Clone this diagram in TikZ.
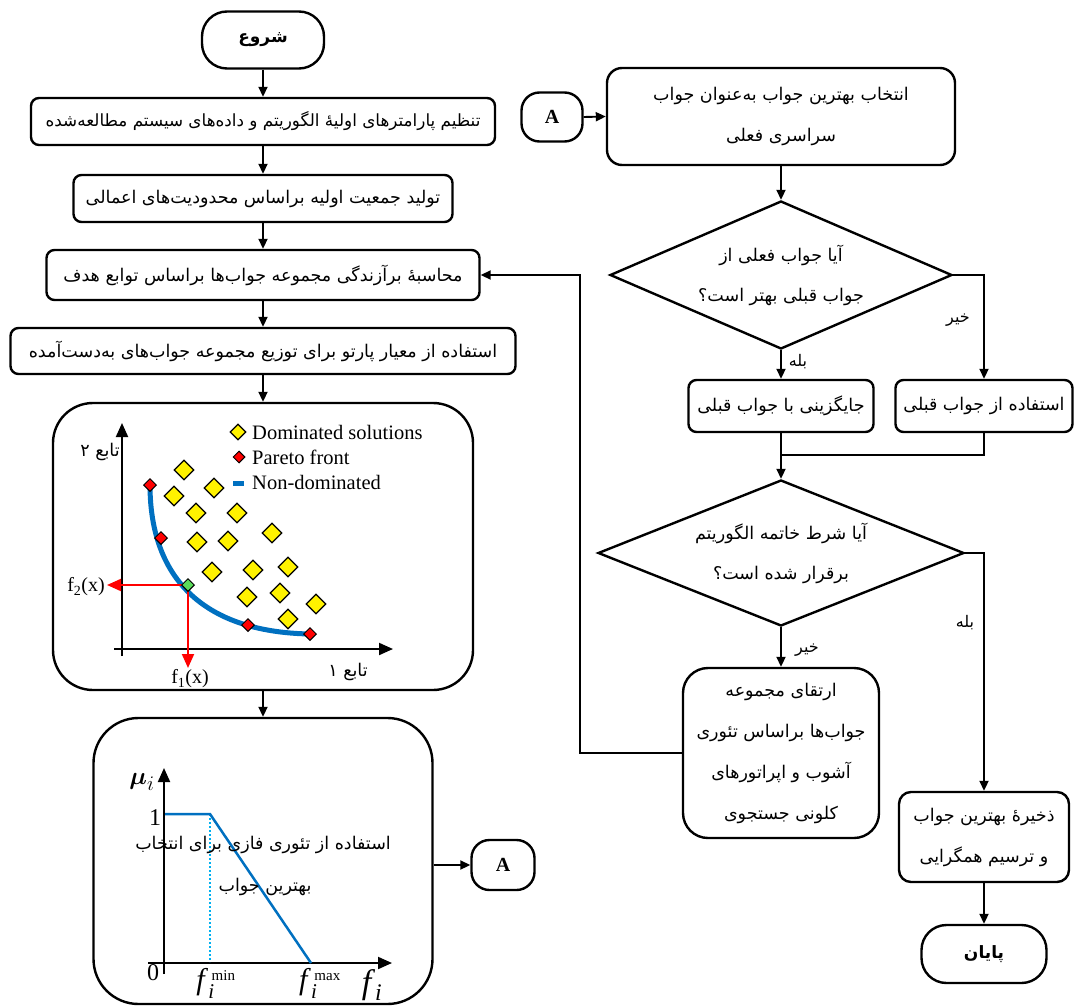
\documentclass[tikz,border=0pt]{standalone}
\usepackage{amsmath}
\usepackage{fontspec}
\setmainfont{Liberation Serif}
\newfontfamily\arabicfont[Script=Arabic]{DejaVu Sans}
\TeXXeTstate=1
\usetikzlibrary{arrows.meta,shapes.geometric}
\newcommand{\fa}[1]{{\arabicfont\beginR #1\endR}}
\definecolor{curveblue}{RGB}{0,112,192}
\definecolor{dotblue}{RGB}{0,176,240}
\definecolor{ptgreen}{RGB}{90,220,90}
\tikzset{
  box/.style={draw, line width=2.4pt, rounded corners=8pt, inner sep=0pt, align=center, font=\fontsize{17.5}{41}\selectfont},
  term/.style={draw, line width=2.4pt, rounded corners=22pt, inner sep=0pt, font=\fontsize{17}{20}\selectfont\bfseries},
  dec/.style={draw, diamond, shape aspect=2.3, line width=2.4pt, inner sep=0pt, align=center, font=\fontsize{17.5}{40}\selectfont},
  arr/.style={line width=1.9pt, -{Triangle[length=10pt,width=9pt]}},
  ln/.style={line width=1.9pt},
  lbl/.style={font=\fontsize{16}{18}\selectfont, inner sep=0pt},
  axis/.style={line width=2pt, -{Triangle[length=14pt,width=12pt]}},
  redarr/.style={red, line width=2pt, -{Triangle[length=14pt,width=12pt]}},
  ydia/.style={diamond, draw, fill=yellow, line width=1.2pt, minimum size=20pt, inner sep=0pt},
  rdia/.style={diamond, draw, fill=red, line width=1pt, minimum size=13pt, inner sep=0pt},
  gdia/.style={diamond, draw, fill=ptgreen, line width=1pt, minimum size=13pt, inner sep=0pt},
  legtxt/.style={anchor=west, inner sep=0pt, font=\fontsize{20.5}{22}\selectfont},
  chtxt/.style={inner sep=0pt, font=\fontsize{20}{22}\selectfont},
  fatxt/.style={inner sep=0pt, font=\fontsize{17.5}{20}\selectfont},
}
\begin{document}
\begin{tikzpicture}[x=1pt,y=-1pt]
\useasboundingbox (0,0) rectangle (1075,1008);

% ---------- left column ----------
\node[term, minimum width=122pt, minimum height=57pt, rounded corners=25pt] (start) at (263,40) {\fa{شروع}};
\node[box, minimum width=464pt, minimum height=47pt, font=\fontsize{16.8}{20}\selectfont] (b1) at (263,121.5) {\fa{تنظیم پارامترهای اولیهٔ الگوریتم و داده‌های سیستم مطالعه‌شده}};
\node[box, minimum width=379pt, minimum height=47pt] (b2) at (263,198.5) {\fa{تولید جمعیت اولیه براساس محدودیت‌های اعمالی}};
\node[box, minimum width=433pt, minimum height=50pt] (b3) at (263,275) {\fa{محاسبهٔ برآزندگی مجموعه جواب‌ها براساس توابع هدف}};
\node[box, minimum width=505pt, minimum height=46pt] (b4) at (263,351) {\fa{استفاده از معیار پارتو برای توزیع مجموعه جواب‌های به‌دست‌آمده}};
\node[draw, line width=2.4pt, rounded corners=40pt, minimum width=420pt, minimum height=287pt, inner sep=0pt] (par) at (263,546.5) {};
\node[draw, line width=2.4pt, rounded corners=45pt, minimum width=339pt, minimum height=286pt, inner sep=0pt] (fz) at (263,861) {};
\node[term, minimum width=63pt, minimum height=50pt, rounded corners=18pt, font=\fontsize{20}{22}\selectfont\bfseries] (aL) at (503,865) {A};

\draw[arr] (start.south) -- (b1.north);
\draw[arr] (b1.south) -- (b2.north);
\draw[arr] (b2.south) -- (b3.north);
\draw[arr] (b3.south) -- (b4.north);
\draw[arr] (b4.south) -- (par.north);
\draw[arr] (par.south) -- (fz.north);
\draw[arr] (fz.east |- aL.west) -- (aL.west);

% ---------- Pareto chart ----------
\draw[curveblue, line width=5pt] (150,485) .. controls (150,575) and (200,632) .. (310,634);
\draw[axis] (122,656) -- (122,423);
\draw[axis] (114,649) -- (393,649);
\coordinate (gp) at (188,585);
\coordinate (f2tip) at (107,585);
\coordinate (f1tip) at (188,668);
\draw[redarr] (gp) -- (f2tip);
\draw[redarr] (gp) -- (f1tip);
\foreach \x/\y [count=\i] in {184/470,214/488,174/496,196/513,237/513,272/533,197/542,228/541,212/572,253/570,288/567,247/597,280/593,316/604,288/619}
  \node[ydia] (yd\i) at (\x,\y) {};
\foreach \x/\y [count=\i] in {150/485,161/538,248/625,310/634}
  \node[rdia] (rd\i) at (\x,\y) {};
\node[gdia] (gd) at (gp) {};
\node[ydia, minimum size=16pt] (lg1) at (238,432) {};
\node[rdia, minimum size=12pt] (lg2) at (239,457) {};
\draw[curveblue, line width=5pt] (233,483) -- (244,483);
\node[legtxt] (lt1) at (252,432) {Dominated solutions};
\node[legtxt] (lt2) at (252,457) {Pareto front};
\node[legtxt] (lt3) at (252,482) {Non-dominated};
\node[chtxt] (f2l) at (86,587) {f\textsubscript{2}(x)};
\node[chtxt] (f1l) at (190,679) {f\textsubscript{1}(x)};
\node[fatxt] (ax2) at (100,452) {\fa{تابع ۲}};
\node[fatxt] (ax1) at (348,672) {\fa{تابع ۱}};

% ---------- fuzzy chart ----------
\draw[axis] (164,974) -- (164,768);
\draw[axis] (148,963) -- (392,963);
\draw[dotblue, line width=2pt, dotted] (210,814) -- (210,962);
\draw[curveblue, line width=2.5pt] (165,814) -- (210,814) -- (311,963);
\node[inner sep=0pt, font=\fontsize{32}{34}\selectfont] (mu) at (142,782) {$\boldsymbol{\mu}_i$};
\node[inner sep=0pt, font=\fontsize{24}{26}\selectfont] (one) at (155,818) {1};
\node[inner sep=0pt, font=\fontsize{24}{26}\selectfont] (zero) at (153,973) {0};
\node[inner sep=0pt, font=\fontsize{30}{32}\selectfont] (fmin) at (216,983) {\textit{f}$_{\textit{i}}^{\,\text{\fontsize{15}{15}\selectfont min}}$};
\node[inner sep=0pt, font=\fontsize{30}{32}\selectfont] (fmax) at (320,983) {\textit{f}$_{\textit{i}}^{\,\text{\fontsize{15}{15}\selectfont max}}$};
\node[inner sep=0pt, font=\fontsize{34}{36}\selectfont] (fi) at (372,985) {\textit{f}$_{\textit{i}}$};
\node[fatxt] (fzt1) at (263,845) {\fa{استفاده از تئوری فازی برای انتخاب}};
\node[fatxt] (fzt2) at (265,887) {\fa{بهترین جواب}};

% ---------- right column ----------
\node[term, minimum width=61pt, minimum height=49pt, rounded corners=18pt, font=\fontsize{20}{22}\selectfont\bfseries] (aR) at (552,117) {A};
\node[box, rounded corners=15pt, minimum width=348pt, minimum height=97pt] (r1) at (781,116.5) {\fa{انتخاب بهترین جواب به‌عنوان جواب}\\\fa{سراسری فعلی}};
\node[dec, minimum width=342pt, minimum height=148pt] (d1) at (781,275) {\fa{آیا جواب فعلی از}\\\fa{جواب قبلی بهتر است؟}};
\node[box, minimum width=185pt, minimum height=52pt] (s1) at (781,406) {\fa{جایگزینی با جواب قبلی}};
\node[box, minimum width=177pt, minimum height=52pt] (s2) at (984,406) {\fa{استفاده از جواب قبلی}};
\coordinate (m) at (781,455);
\node[dec, minimum width=366pt, minimum height=146pt] (d2) at (781,553) {\fa{آیا شرط خاتمه الگوریتم}\\\fa{برقرار شده است؟}};
\node[box, rounded corners=25pt, minimum width=196pt, minimum height=170pt] (ev) at (781,753) {\fa{ارتقای مجموعه}\\\fa{جواب‌ها براساس تئوری}\\\fa{آشوب و اپراتورهای}\\\fa{کلونی جستجوی}};
\node[box, rounded corners=12pt, minimum width=170pt, minimum height=90pt] (sv) at (984,837) {\fa{ذخیرهٔ بهترین جواب}\\\fa{و ترسیم همگرایی}};
\node[term, minimum width=125pt, minimum height=58pt, rounded corners=25pt] (en) at (984,954) {\fa{پایان}};
\coordinate (lp) at (580,275);

\draw[arr] (aR.east) -- (r1.west);
\draw[arr] (r1.south) -- (d1.north);
\draw[arr] (d1.south) -- (s1.north);
\draw[arr] (d1.east) -| (s2.north);
\draw[ln] (s2.south) |- (m);
\draw[arr] (s1.south) -- (d2.north);
\draw[arr] (d2.south) -- (ev.north);
\draw[arr] (d2.east) -| (sv.north);
\draw[arr] (sv.south) -- (en.north);
\draw[arr] (ev.west) -| (lp) -- (b3.east);

\node[lbl] (no1) at (958,320) {\fa{خیر}};
\node[lbl] (yes1) at (798,362) {\fa{بله}};
\node[lbl] (yes2) at (965,623) {\fa{بله}};
\node[lbl] (no2) at (807,650) {\fa{خیر}};
\end{tikzpicture}
\end{document}
